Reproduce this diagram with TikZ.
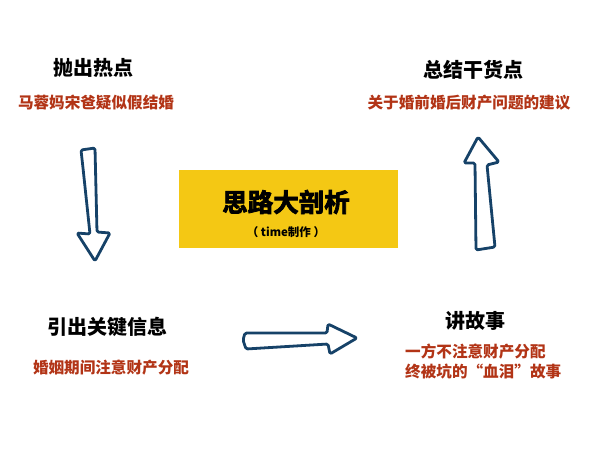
\documentclass[tikz,border=0pt]{standalone}
\usepackage{fontspec}
\newfontfamily\cjk{Noto Sans CJK SC}
\newfontfamily\cjkheavy[FakeBold=3]{Noto Sans CJK SC Bold}
\usepackage{tikz}

\definecolor{notered}{RGB}{178,52,22}
\definecolor{boxyellow}{RGB}{244,200,20}
\definecolor{arrowblue}{RGB}{22,66,104}

\tikzset{
  headtext/.style={font=\cjk\bfseries\fontsize{20}{22}\selectfont, text=black, inner sep=0pt},
  notetext/.style={font=\cjk\bfseries\fontsize{15.6}{20}\selectfont, text=notered, inner sep=0pt},
  sketcharrow/.style={draw=arrowblue, line width=2.8pt, line join=round, rounded corners=1.5pt}
}

\begin{document}
\begin{tikzpicture}[x=1pt,y=-1pt]
  \useasboundingbox (0,0) rectangle (600,450);

  % centre box
  \fill[color=boxyellow] (179,170) rectangle (398,248);
  \node[font=\cjkheavy\fontsize{25.5}{27}\selectfont, inner sep=0pt] (title) at (286,202) {思路大剖析};
  \node[font=\cjk\bfseries\fontsize{11.5}{13}\selectfont, inner sep=0pt] (maker) at (286,232) {（ time制作 ）};

  % top left
  \node[headtext] (hot) at (93,68) {抛出热点};
  \node[notetext] (hotnote) at (96,103) {马蓉妈宋爸疑似假结婚};

  % top right
  \node[headtext] (sum) at (473,70) {总结干货点};
  \node[notetext] (sumnote) at (469,103) {关于婚前婚后财产问题的建议};

  % bottom left
  \node[headtext] (key) at (107,327) {引出关键信息};
  \node[notetext] (keynote) at (111,368) {婚姻期间注意财产分配};

  % bottom right
  \node[headtext] (story) at (475,321) {讲故事};
  \node[notetext, anchor=west, align=left] (storynote) at (405,362) {一方不注意财产分配\\终被坑的“血泪”故事};

  % hand drawn arrows
  \draw[sketcharrow] (81,150) -- (95,148) -- (97,232) -- (110,233) -- (95,261)
    -- (77,233) -- (90,234) -- (83,168) -- cycle;
  \draw[sketcharrow] (478,137) -- (499,162) -- (487,165) -- (495,247) -- (476,250)
    -- (475,163) -- (464,163) -- cycle;
  \draw[sketcharrow] (245,333) -- (327,333) -- (328,324) -- (357,338) -- (330,354)
    -- (328,344) -- (246,349) -- (243,340) -- cycle;
\end{tikzpicture}
\end{document}
